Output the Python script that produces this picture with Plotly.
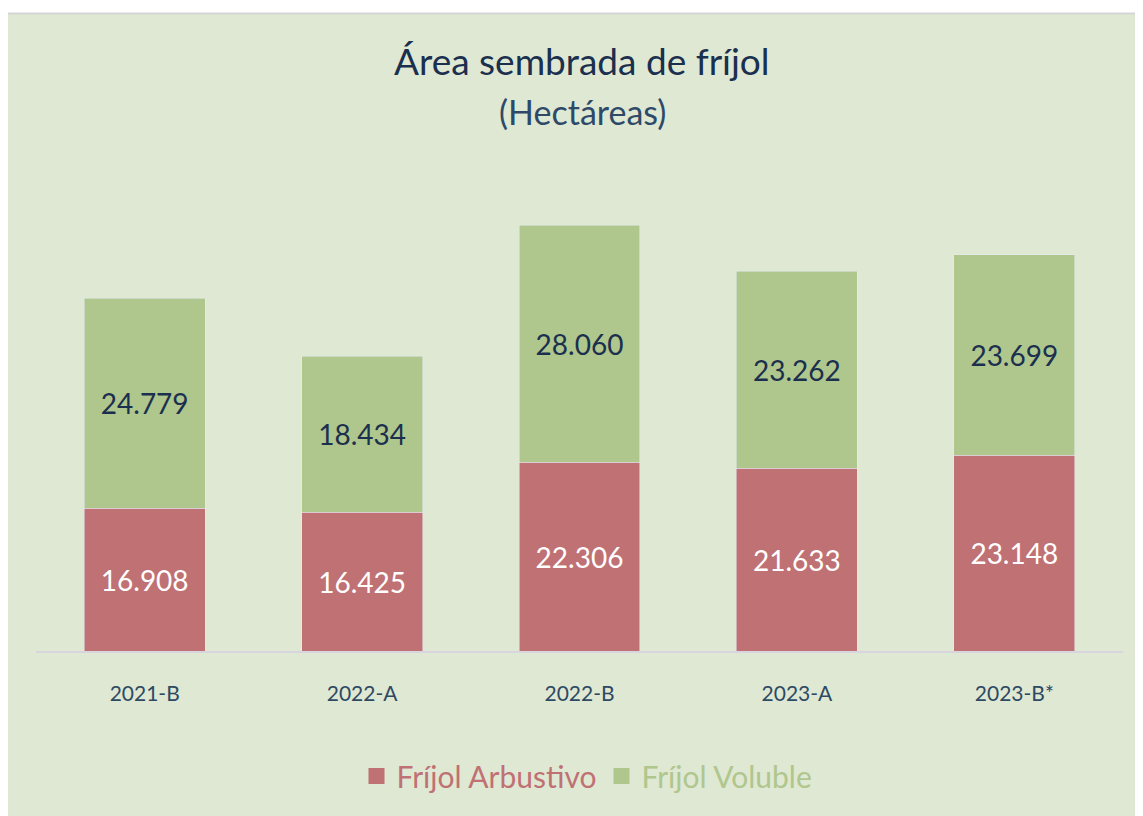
import plotly.graph_objects as go

# Data
temporadas = ["2021-B", "2022-A", "2022-B", "2023-A", "2023-B*"]
arbustivo = [16908, 16425, 22306, 21633, 23148]
voluble = [24779, 18434, 28060, 23262, 23699]

# Colors
red = "#BF7174"
green = "#AFC68D"
navy = "#1B2F4E"
bg = "#DFE8D3"
font = "Lato"

# the page puts the figure 8px in from the top-left corner
OFF = 8
W, H = 1135, 808
ml, mr, mt, mb = 28, 20, 144, 165
pw = W - ml - mr
ph = H - mt - mb


def px_x(p):
    # screen pixel -> paper coordinate
    return (p - OFF - ml) / pw


def px_y(p):
    return (H - mb - (p - OFF)) / ph


fig = go.Figure()

fig.add_trace(go.Bar(
    x=temporadas, y=arbustivo, name="Fríjol Arbustivo",
    marker_color=red, showlegend=False,
    texttemplate="%{y:,}",
    textposition="inside",
    insidetextanchor="middle",
    textfont=dict(color="white", size=28, family=font),
))
fig.add_trace(go.Bar(
    x=temporadas, y=voluble, name="Fríjol Voluble",
    marker_color=green, showlegend=False,
    texttemplate="%{y:,}",
    textposition="inside",
    insidetextanchor="middle",
    textfont=dict(color=navy, size=28, family=font),
))

# legend entries with bigger square swatches and coloured text
for nm, col in [("Fríjol Arbustivo", red), ("Fríjol Voluble", green)]:
    fig.add_trace(go.Scatter(
        x=[None], y=[None], mode="markers",
        name="<span style='color:%s'>%s</span>" % (col, nm),
        marker=dict(symbol="square", size=19, color=col),
    ))

# Background panel with thin gray border
fig.add_shape(type="rect", xref="paper", yref="paper", layer="below",
              x0=px_x(7), x1=px_x(1160), y0=px_y(830), y1=px_y(13.5),
              fillcolor=bg, line=dict(color="#D6D6D6", width=2))

# Title and subtitle
fig.add_annotation(text="Área sembrada de fríjol", xref="paper", yref="paper",
                   x=px_x(582), y=px_y(61), showarrow=False,
                   xanchor="center", yanchor="middle",
                   font=dict(size=37, color=navy, family=font))
fig.add_annotation(text="(Hectáreas)", xref="paper", yref="paper",
                   x=px_x(582), y=px_y(111), showarrow=False,
                   xanchor="center", yanchor="middle",
                   font=dict(size=34, color="#2E4A68", family=font))

fig.update_layout(
    width=W, height=H,
    barmode="stack",
    bargap=0.444,
    separators=",.",
    paper_bgcolor="white",
    plot_bgcolor="rgba(0,0,0,0)",
    margin=dict(l=ml, r=mr, t=mt, b=mb),
    font=dict(family=font, color=navy),
    showlegend=True,
    legend=dict(orientation="h", x=px_x(587), xanchor="center",
                y=px_y(776), yanchor="middle",
                traceorder="normal",
                font=dict(size=30, family=font),
                bgcolor="rgba(0,0,0,0)"),
)

fig.update_xaxes(
    showline=True, linecolor="#D9D5DF", linewidth=2,
    ticks="outside", ticklen=23, tickcolor="rgba(0,0,0,0)",
    tickfont=dict(size=21, color="#2E4A63", family=font),
    showgrid=False,
)
fig.update_yaxes(
    range=[0, 59000], visible=False, showgrid=False,
)

fig.write_html("out.html")
